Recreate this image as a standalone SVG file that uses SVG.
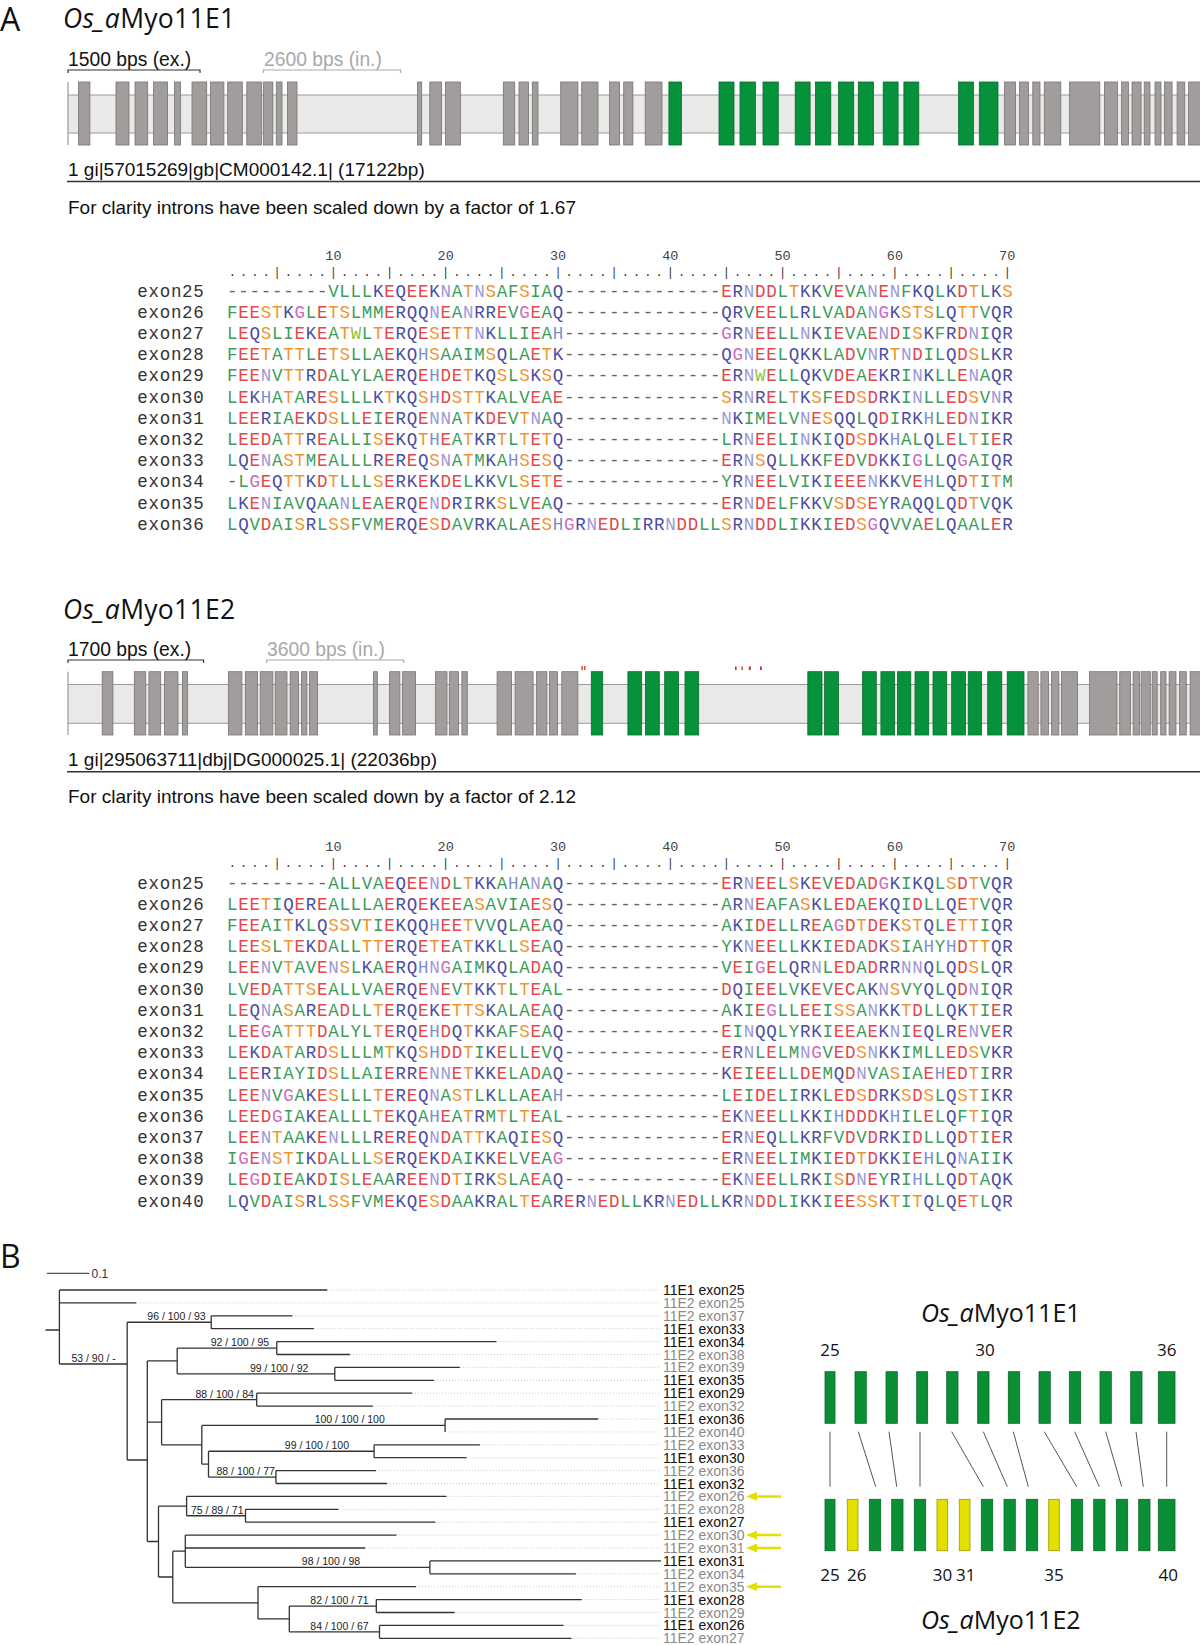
<svg xmlns="http://www.w3.org/2000/svg" width="1200" height="1645" viewBox="0 0 1200 1645">
<style>
.bg{fill:#fff}
.ttl{font-family:"Open Sans","Liberation Sans",sans-serif;font-size:25px;fill:#111}
.ttlA{font-family:"Open Sans","Liberation Sans",sans-serif;font-size:26.5px;fill:#111;letter-spacing:0.3px}
.pl{font-family:"Open Sans","Liberation Sans",sans-serif;font-size:32px;fill:#111}
.sans{font-family:"Liberation Sans",Arial,sans-serif}
.bar{stroke:#333;stroke-width:1.2;fill:none}
.bar2{stroke:#aaa;stroke-width:1.2;fill:none}
.band{fill:#e9e9e7}
.bandl{stroke:#9a9a9a;stroke-width:1;fill:none}
.ex{fill:#a09d9c;stroke:#767372;stroke-width:0.8}
.eg{fill:#05923b;stroke:#0a6a2c;stroke-width:0.8}
.sep{stroke:#333;stroke-width:1.4}
.seq{font-family:"Liberation Mono","DejaVu Sans Mono",monospace;font-size:17.5px;letter-spacing:0.73px;fill:#3a9d5a}
.lab{font-family:"Liberation Mono","DejaVu Sans Mono",monospace;font-size:17.5px;letter-spacing:0.73px;fill:#333}
.num{font-family:"Liberation Mono","DejaVu Sans Mono",monospace;font-size:13.5px;fill:#444;text-anchor:middle}
.dots{font-family:"Liberation Mono","DejaVu Sans Mono",monospace;font-size:12px;letter-spacing:4.03px;fill:#333}
.a{fill:#e4474b}.b{fill:#4c4ca2}.n{fill:#9c98d8}.o{fill:#f0952b}.g{fill:#d06ac0}.x{fill:#7a8fcc}.w{fill:#8cc43c}.c{fill:#e4474b}.d{fill:#666}
.br{stroke:#333;stroke-width:1.3;fill:none}
.ldr{stroke:#c8c8c8;stroke-width:1;stroke-dasharray:1 2;fill:none}
.bs{font-family:"Liberation Sans",Arial,sans-serif;font-size:10.5px;fill:#222}
.l1{font-family:"Liberation Sans",Arial,sans-serif;font-size:14px;fill:#111}
.l2{font-family:"Liberation Sans",Arial,sans-serif;font-size:14px;fill:#8a8a8a}
.arr{stroke:#e3df00;stroke-width:2.5;fill:none}
.arh{fill:#e3df00}
.rg{fill:#0a8f34;stroke:#06682a;stroke-width:0.8}
.ry{fill:#e3e000;stroke:#9a9a00;stroke-width:0.8}
.cn{stroke:#555;stroke-width:1}
.rn{font-family:"Open Sans","Liberation Sans",sans-serif;font-size:17px;fill:#111;text-anchor:middle}
.red{fill:#d42a2a}
</style>
<rect class="bg" x="0" y="0" width="1200" height="1645"/>

<g id="panelA-label"><text class="pl" x="0" y="31">A</text></g>

<g id="gene-E1">
<text class="ttlA" x="63" y="28"><tspan font-style="italic">Os_a</tspan>Myo11E1</text>
<text class="sans" x="68" y="65.5" font-size="19.3" fill="#111">1500 bps (ex.)</text>
<path class="bar" d="M68,73V70H200V73"/>
<text class="sans" x="264" y="65.5" font-size="19.3" fill="#a8a8a8">2600 bps (in.)</text>
<path class="bar2" d="M263.5,73V70H400.5V73"/>
<rect class="band" x="68" y="95" width="1132" height="38"/>
<path class="bandl" d="M68,95H1200M68,133H1200"/>
<path d="M68,82V145" stroke="#888" stroke-width="1"/>
<g>
<rect class="ex" x="78.5" y="82" width="11.4" height="63"/>
<rect class="ex" x="116" y="82" width="13" height="63"/>
<rect class="ex" x="135" y="82" width="12.7" height="63"/>
<rect class="ex" x="153.5" y="82" width="14.1" height="63"/>
<rect class="ex" x="174.5" y="82" width="6.1" height="63"/>
<rect class="ex" x="192" y="82" width="14.7" height="63"/>
<rect class="ex" x="210.5" y="82" width="13.4" height="63"/>
<rect class="ex" x="227.7" y="82" width="14.6" height="63"/>
<rect class="ex" x="246.8" y="82" width="14.6" height="63"/>
<rect class="ex" x="263.3" y="82" width="9.6" height="63"/>
<rect class="ex" x="276.3" y="82" width="5.7" height="63"/>
<rect class="ex" x="287.4" y="82" width="9.6" height="63"/>
<rect class="ex" x="417.5" y="82" width="4.2" height="63"/>
<rect class="ex" x="429.8" y="82" width="11.8" height="63"/>
<rect class="ex" x="445.5" y="82" width="14.9" height="63"/>
<rect class="ex" x="503.3" y="82" width="11.4" height="63"/>
<rect class="ex" x="519" y="82" width="9.5" height="63"/>
<rect class="ex" x="532.3" y="82" width="5.7" height="63"/>
<rect class="ex" x="560.7" y="82" width="17.2" height="63"/>
<rect class="ex" x="581.7" y="82" width="16.3" height="63"/>
<rect class="ex" x="609.6" y="82" width="9.9" height="63"/>
<rect class="ex" x="623.7" y="82" width="9.2" height="63"/>
<rect class="ex" x="645.2" y="82" width="16.8" height="63"/>
<rect class="eg" x="668.9" y="82" width="12.6" height="63"/>
<rect class="eg" x="719" y="82" width="15" height="63"/>
<rect class="eg" x="740" y="82" width="15.4" height="63"/>
<rect class="eg" x="763" y="82" width="15.3" height="63"/>
<rect class="eg" x="795.2" y="82" width="14.9" height="63"/>
<rect class="eg" x="815.5" y="82" width="15.3" height="63"/>
<rect class="eg" x="838.4" y="82" width="15.3" height="63"/>
<rect class="eg" x="858.3" y="82" width="15.3" height="63"/>
<rect class="eg" x="883.2" y="82" width="14.9" height="63"/>
<rect class="eg" x="903.9" y="82" width="14.9" height="63"/>
<rect class="eg" x="958.6" y="82" width="14.9" height="63"/>
<rect class="eg" x="979.3" y="82" width="18.7" height="63"/>
<rect class="ex" x="1004.5" y="82" width="11.1" height="63"/>
<rect class="ex" x="1019.4" y="82" width="9.2" height="63"/>
<rect class="ex" x="1032.8" y="82" width="7.2" height="63"/>
<rect class="ex" x="1044.3" y="82" width="16.5" height="63"/>
<rect class="ex" x="1069.6" y="82" width="30.2" height="63"/>
<rect class="ex" x="1104.4" y="82" width="13" height="63"/>
<rect class="ex" x="1121.6" y="82" width="6.9" height="63"/>
<rect class="ex" x="1132" y="82" width="9.1" height="63"/>
<rect class="ex" x="1144.2" y="82" width="5.8" height="63"/>
<rect class="ex" x="1155" y="82" width="6" height="63"/>
<rect class="ex" x="1164.5" y="82" width="7.6" height="63"/>
<rect class="ex" x="1177.1" y="82" width="7.7" height="63"/>
<rect class="ex" x="1188.6" y="82" width="12" height="63"/>
</g>
<text class="sans" x="68" y="175.5" font-size="19" fill="#111">1 gi|57015269|gb|CM000142.1| (17122bp)</text>
<path class="sep" d="M67,181.5H1200"/>
<text class="sans" x="68" y="213.5" font-size="19" fill="#111">For clarity introns have been scaled down by a factor of 1.67</text>
</g>

<g id="align-E1">
<text class="num" x="333.4" y="259.5">10</text><text class="num" x="445.7" y="259.5">20</text><text class="num" x="558" y="259.5">30</text><text class="num" x="670.3" y="259.5">40</text><text class="num" x="782.6" y="259.5">50</text><text class="num" x="894.9" y="259.5">60</text><text class="num" x="1007.2" y="259.5">70</text>
<text class="dots" x="228.7" y="275.5">....|....|....|....|....|....|....|....|....|....|....|....|....|....|</text>
<text class="lab" x="137.2" y="296.5">exon25</text>
<text class="lab" x="137.2" y="317.7">exon26</text>
<text class="lab" x="137.2" y="338.9">exon27</text>
<text class="lab" x="137.2" y="360.1">exon28</text>
<text class="lab" x="137.2" y="381.3">exon29</text>
<text class="lab" x="137.2" y="402.5">exon30</text>
<text class="lab" x="137.2" y="423.7">exon31</text>
<text class="lab" x="137.2" y="444.9">exon32</text>
<text class="lab" x="137.2" y="466.1">exon33</text>
<text class="lab" x="137.2" y="487.3">exon34</text>
<text class="lab" x="137.2" y="508.5">exon35</text>
<text class="lab" x="137.2" y="529.7">exon36</text>
<text class="seq" x="227.05" y="296.5"><tspan class="d">---------</tspan>VLLL<tspan class="b">K</tspan><tspan class="a">E</tspan><tspan class="b">Q</tspan><tspan class="a">EE</tspan><tspan class="b">K</tspan><tspan class="n">N</tspan>A<tspan class="o">T</tspan><tspan class="n">N</tspan><tspan class="o">S</tspan>AF<tspan class="o">S</tspan>IA<tspan class="b">Q</tspan><tspan class="d">--------------</tspan><tspan class="a">E</tspan><tspan class="b">R</tspan><tspan class="n">N</tspan><tspan class="a">DD</tspan>L<tspan class="o">T</tspan><tspan class="b">KK</tspan>V<tspan class="a">E</tspan>VA<tspan class="n">N</tspan><tspan class="a">E</tspan><tspan class="n">N</tspan>F<tspan class="b">KQ</tspan>L<tspan class="b">K</tspan><tspan class="a">D</tspan><tspan class="o">T</tspan>L<tspan class="b">K</tspan><tspan class="o">S</tspan></text>
<text class="seq" x="227.05" y="317.7">F<tspan class="a">EE</tspan><tspan class="o">ST</tspan><tspan class="b">K</tspan><tspan class="g">G</tspan>L<tspan class="a">E</tspan><tspan class="o">TS</tspan>LMM<tspan class="a">E</tspan><tspan class="b">RQQ</tspan><tspan class="n">N</tspan><tspan class="a">E</tspan>A<tspan class="n">N</tspan><tspan class="b">RR</tspan><tspan class="a">E</tspan>V<tspan class="g">G</tspan><tspan class="a">E</tspan>A<tspan class="b">Q</tspan><tspan class="d">--------------</tspan><tspan class="b">QR</tspan>V<tspan class="a">EE</tspan>LL<tspan class="b">R</tspan>LVA<tspan class="a">D</tspan>A<tspan class="n">N</tspan><tspan class="g">G</tspan><tspan class="b">K</tspan><tspan class="o">STS</tspan>L<tspan class="b">Q</tspan><tspan class="o">TT</tspan>V<tspan class="b">QR</tspan></text>
<text class="seq" x="227.05" y="338.9">L<tspan class="a">E</tspan><tspan class="b">Q</tspan><tspan class="o">S</tspan>LI<tspan class="a">E</tspan><tspan class="b">K</tspan><tspan class="a">E</tspan>A<tspan class="o">T</tspan><tspan class="w">W</tspan>L<tspan class="o">T</tspan><tspan class="a">E</tspan><tspan class="b">RQ</tspan><tspan class="a">E</tspan><tspan class="o">S</tspan><tspan class="a">E</tspan><tspan class="o">TT</tspan><tspan class="n">N</tspan><tspan class="b">K</tspan>LLI<tspan class="a">E</tspan>A<tspan class="x">H</tspan><tspan class="d">--------------</tspan><tspan class="g">G</tspan><tspan class="b">R</tspan><tspan class="n">N</tspan><tspan class="a">EE</tspan>LL<tspan class="n">N</tspan><tspan class="b">K</tspan>I<tspan class="a">E</tspan>VA<tspan class="a">E</tspan><tspan class="n">N</tspan><tspan class="a">D</tspan>I<tspan class="o">S</tspan><tspan class="b">K</tspan>F<tspan class="b">R</tspan><tspan class="a">D</tspan><tspan class="n">N</tspan>I<tspan class="b">QR</tspan></text>
<text class="seq" x="227.05" y="360.1">F<tspan class="a">EE</tspan><tspan class="o">T</tspan>A<tspan class="o">TT</tspan>L<tspan class="a">E</tspan><tspan class="o">TS</tspan>LLA<tspan class="a">E</tspan><tspan class="b">KQ</tspan><tspan class="x">H</tspan><tspan class="o">S</tspan>AAIM<tspan class="o">S</tspan><tspan class="b">Q</tspan>LA<tspan class="a">E</tspan><tspan class="o">T</tspan><tspan class="b">K</tspan><tspan class="d">--------------</tspan><tspan class="b">Q</tspan><tspan class="g">G</tspan><tspan class="n">N</tspan><tspan class="a">EE</tspan>L<tspan class="b">QKK</tspan>LA<tspan class="a">D</tspan>V<tspan class="n">N</tspan><tspan class="b">R</tspan><tspan class="o">T</tspan><tspan class="n">N</tspan><tspan class="a">D</tspan>IL<tspan class="b">Q</tspan><tspan class="a">D</tspan><tspan class="o">S</tspan>L<tspan class="b">KR</tspan></text>
<text class="seq" x="227.05" y="381.3">F<tspan class="a">EE</tspan><tspan class="n">N</tspan>V<tspan class="o">TT</tspan><tspan class="b">R</tspan><tspan class="a">D</tspan>ALYLA<tspan class="a">E</tspan><tspan class="b">RQ</tspan><tspan class="a">E</tspan><tspan class="x">H</tspan><tspan class="a">DE</tspan><tspan class="o">T</tspan><tspan class="b">KQ</tspan><tspan class="o">S</tspan>L<tspan class="o">S</tspan><tspan class="b">K</tspan><tspan class="o">S</tspan><tspan class="b">Q</tspan><tspan class="d">--------------</tspan><tspan class="a">E</tspan><tspan class="b">R</tspan><tspan class="n">N</tspan><tspan class="w">W</tspan><tspan class="a">E</tspan>LL<tspan class="b">QK</tspan>V<tspan class="a">DE</tspan>A<tspan class="a">E</tspan><tspan class="b">KR</tspan>I<tspan class="n">N</tspan><tspan class="b">K</tspan>LL<tspan class="a">E</tspan><tspan class="n">N</tspan>A<tspan class="b">QR</tspan></text>
<text class="seq" x="227.05" y="402.5">L<tspan class="a">E</tspan><tspan class="b">K</tspan><tspan class="x">H</tspan>A<tspan class="o">T</tspan>A<tspan class="b">R</tspan><tspan class="a">E</tspan><tspan class="o">S</tspan>LLL<tspan class="b">K</tspan><tspan class="o">T</tspan><tspan class="b">KQ</tspan><tspan class="o">S</tspan><tspan class="x">H</tspan><tspan class="a">D</tspan><tspan class="o">STT</tspan><tspan class="b">K</tspan>ALV<tspan class="a">E</tspan>A<tspan class="a">E</tspan><tspan class="d">--------------</tspan><tspan class="o">S</tspan><tspan class="b">R</tspan><tspan class="n">N</tspan><tspan class="b">R</tspan><tspan class="a">E</tspan>L<tspan class="o">T</tspan><tspan class="b">K</tspan><tspan class="o">S</tspan>F<tspan class="a">ED</tspan><tspan class="o">S</tspan><tspan class="a">D</tspan><tspan class="b">RK</tspan>I<tspan class="n">N</tspan>LL<tspan class="a">ED</tspan><tspan class="o">S</tspan>V<tspan class="n">N</tspan><tspan class="b">R</tspan></text>
<text class="seq" x="227.05" y="423.7">L<tspan class="a">EE</tspan><tspan class="b">R</tspan>IA<tspan class="a">E</tspan><tspan class="b">K</tspan><tspan class="a">D</tspan><tspan class="o">S</tspan>LL<tspan class="a">E</tspan>I<tspan class="a">E</tspan><tspan class="b">RQ</tspan><tspan class="a">E</tspan><tspan class="n">NN</tspan>A<tspan class="o">T</tspan><tspan class="b">K</tspan><tspan class="a">DE</tspan>V<tspan class="o">T</tspan><tspan class="n">N</tspan>A<tspan class="b">Q</tspan><tspan class="d">--------------</tspan><tspan class="n">N</tspan><tspan class="b">K</tspan>IM<tspan class="a">E</tspan>LV<tspan class="n">N</tspan><tspan class="a">E</tspan><tspan class="o">S</tspan><tspan class="b">QQ</tspan>L<tspan class="b">Q</tspan><tspan class="a">D</tspan>I<tspan class="b">RK</tspan><tspan class="x">H</tspan>L<tspan class="a">ED</tspan><tspan class="n">N</tspan>I<tspan class="b">KR</tspan></text>
<text class="seq" x="227.05" y="444.9">L<tspan class="a">EED</tspan>A<tspan class="o">TT</tspan><tspan class="b">R</tspan><tspan class="a">E</tspan>ALLI<tspan class="o">S</tspan><tspan class="a">E</tspan><tspan class="b">KQ</tspan><tspan class="o">T</tspan><tspan class="x">H</tspan><tspan class="a">E</tspan>A<tspan class="o">T</tspan><tspan class="b">KR</tspan><tspan class="o">T</tspan>L<tspan class="o">T</tspan><tspan class="a">E</tspan><tspan class="o">T</tspan><tspan class="b">Q</tspan><tspan class="d">--------------</tspan>L<tspan class="b">R</tspan><tspan class="n">N</tspan><tspan class="a">EE</tspan>LI<tspan class="n">N</tspan><tspan class="b">K</tspan>I<tspan class="b">Q</tspan><tspan class="a">D</tspan><tspan class="o">S</tspan><tspan class="a">D</tspan><tspan class="b">K</tspan><tspan class="x">H</tspan>AL<tspan class="b">Q</tspan>L<tspan class="a">E</tspan>L<tspan class="o">T</tspan>I<tspan class="a">E</tspan><tspan class="b">R</tspan></text>
<text class="seq" x="227.05" y="466.1">L<tspan class="b">Q</tspan><tspan class="a">E</tspan><tspan class="n">N</tspan>A<tspan class="o">ST</tspan>M<tspan class="a">E</tspan>ALLL<tspan class="b">R</tspan><tspan class="a">E</tspan><tspan class="b">R</tspan><tspan class="a">E</tspan><tspan class="b">Q</tspan><tspan class="o">S</tspan><tspan class="n">N</tspan>A<tspan class="o">T</tspan>M<tspan class="b">K</tspan>A<tspan class="x">H</tspan><tspan class="o">S</tspan><tspan class="a">E</tspan><tspan class="o">S</tspan><tspan class="b">Q</tspan><tspan class="d">--------------</tspan><tspan class="a">E</tspan><tspan class="b">R</tspan><tspan class="n">N</tspan><tspan class="o">S</tspan><tspan class="b">Q</tspan>LL<tspan class="b">KK</tspan>F<tspan class="a">ED</tspan>V<tspan class="a">D</tspan><tspan class="b">KK</tspan>I<tspan class="g">G</tspan>LL<tspan class="b">Q</tspan><tspan class="g">G</tspan>AI<tspan class="b">QR</tspan></text>
<text class="seq" x="227.05" y="487.3"><tspan class="d">-</tspan>L<tspan class="g">G</tspan><tspan class="a">E</tspan><tspan class="b">Q</tspan><tspan class="o">TT</tspan><tspan class="b">K</tspan><tspan class="a">D</tspan><tspan class="o">T</tspan>LLL<tspan class="o">S</tspan><tspan class="a">E</tspan><tspan class="b">RK</tspan><tspan class="a">E</tspan><tspan class="b">K</tspan><tspan class="a">DE</tspan>L<tspan class="b">KK</tspan>VL<tspan class="o">S</tspan><tspan class="a">E</tspan><tspan class="o">T</tspan><tspan class="a">E</tspan><tspan class="d">--------------</tspan>Y<tspan class="b">R</tspan><tspan class="n">N</tspan><tspan class="a">EE</tspan>LVI<tspan class="b">K</tspan>I<tspan class="a">EEE</tspan><tspan class="n">N</tspan><tspan class="b">KK</tspan>V<tspan class="a">E</tspan><tspan class="x">H</tspan>L<tspan class="b">Q</tspan><tspan class="a">D</tspan><tspan class="o">T</tspan>I<tspan class="o">T</tspan>M</text>
<text class="seq" x="227.05" y="508.5">L<tspan class="b">K</tspan><tspan class="a">E</tspan><tspan class="n">N</tspan>IAV<tspan class="b">Q</tspan>AA<tspan class="n">N</tspan>L<tspan class="a">E</tspan>A<tspan class="a">E</tspan><tspan class="b">RQ</tspan><tspan class="a">E</tspan><tspan class="n">N</tspan><tspan class="a">D</tspan><tspan class="b">R</tspan>I<tspan class="b">RK</tspan><tspan class="o">S</tspan>LV<tspan class="a">E</tspan>A<tspan class="b">Q</tspan><tspan class="d">--------------</tspan><tspan class="a">E</tspan><tspan class="b">R</tspan><tspan class="n">N</tspan><tspan class="a">DE</tspan>LF<tspan class="b">KK</tspan>V<tspan class="o">S</tspan><tspan class="a">D</tspan><tspan class="o">S</tspan><tspan class="a">E</tspan>Y<tspan class="b">R</tspan>A<tspan class="b">QQ</tspan>L<tspan class="b">Q</tspan><tspan class="a">D</tspan><tspan class="o">T</tspan>V<tspan class="b">QK</tspan></text>
<text class="seq" x="227.05" y="529.7">L<tspan class="b">Q</tspan>V<tspan class="a">D</tspan>AI<tspan class="o">S</tspan><tspan class="b">R</tspan>L<tspan class="o">SS</tspan>FVM<tspan class="a">E</tspan><tspan class="b">RQ</tspan><tspan class="a">E</tspan><tspan class="o">S</tspan><tspan class="a">D</tspan>AV<tspan class="b">RK</tspan>ALA<tspan class="a">E</tspan><tspan class="o">S</tspan><tspan class="x">H</tspan><tspan class="g">G</tspan><tspan class="b">R</tspan><tspan class="n">N</tspan><tspan class="a">ED</tspan>LI<tspan class="b">RR</tspan><tspan class="n">N</tspan><tspan class="a">DD</tspan>LL<tspan class="o">S</tspan><tspan class="b">R</tspan><tspan class="n">N</tspan><tspan class="a">DD</tspan>LI<tspan class="b">KK</tspan>I<tspan class="a">ED</tspan><tspan class="o">S</tspan><tspan class="g">G</tspan><tspan class="b">Q</tspan>VVA<tspan class="a">E</tspan>L<tspan class="b">Q</tspan>AAL<tspan class="a">E</tspan><tspan class="b">R</tspan></text>
</g>

<g id="gene-E2">
<text class="ttlA" x="63" y="619"><tspan font-style="italic">Os_a</tspan>Myo11E2</text>
<text class="sans" x="68" y="656" font-size="19.3" fill="#111">1700 bps (ex.)</text>
<path class="bar" d="M68,663V660H203.6V663"/>
<text class="sans" x="267" y="656" font-size="19.3" fill="#a8a8a8">3600 bps (in.)</text>
<path class="bar2" d="M266.7,663V660H403.7V663"/>
<rect class="band" x="68" y="684.5" width="1132" height="38.8"/>
<path class="bandl" d="M68,684.5H1200M68,723.3H1200"/>
<path d="M68,671.7V735" stroke="#888" stroke-width="1"/>
<g>
<rect class="ex" x="102.2" y="671.7" width="10.7" height="63.3"/>
<rect class="ex" x="134.3" y="671.7" width="11.5" height="63.3"/>
<rect class="ex" x="148.9" y="671.7" width="11.8" height="63.3"/>
<rect class="ex" x="164.6" y="671.7" width="13.4" height="63.3"/>
<rect class="ex" x="182.5" y="671.7" width="5" height="63.3"/>
<rect class="ex" x="228.5" y="671.7" width="13.4" height="63.3"/>
<rect class="ex" x="245.3" y="671.7" width="12.3" height="63.3"/>
<rect class="ex" x="260.2" y="671.7" width="12.7" height="63.3"/>
<rect class="ex" x="275.2" y="671.7" width="11.8" height="63.3"/>
<rect class="ex" x="290.1" y="671.7" width="8.4" height="63.3"/>
<rect class="ex" x="301.6" y="671.7" width="5.3" height="63.3"/>
<rect class="ex" x="309.6" y="671.7" width="8" height="63.3"/>
<rect class="ex" x="373.5" y="671.7" width="3.8" height="63.3"/>
<rect class="ex" x="389.6" y="671.7" width="10.3" height="63.3"/>
<rect class="ex" x="402.6" y="671.7" width="13" height="63.3"/>
<rect class="ex" x="435.5" y="671.7" width="11.5" height="63.3"/>
<rect class="ex" x="449.3" y="671.7" width="9.2" height="63.3"/>
<rect class="ex" x="461.9" y="671.7" width="5.4" height="63.3"/>
<rect class="ex" x="497.1" y="671.7" width="14.5" height="63.3"/>
<rect class="ex" x="515.1" y="671.7" width="18" height="63.3"/>
<rect class="ex" x="536.6" y="671.7" width="10.3" height="63.3"/>
<rect class="ex" x="549.6" y="671.7" width="8" height="63.3"/>
<rect class="ex" x="561.8" y="671.7" width="16.1" height="63.3"/>
<rect class="eg" x="591.3" y="671.7" width="11.4" height="63.3"/>
<rect class="eg" x="627.9" y="671.7" width="13.8" height="63.3"/>
<rect class="eg" x="645.5" y="671.7" width="13.8" height="63.3"/>
<rect class="eg" x="664.7" y="671.7" width="13.8" height="63.3"/>
<rect class="eg" x="685" y="671.7" width="13.7" height="63.3"/>
<rect class="eg" x="807.8" y="671.7" width="14.2" height="63.3"/>
<rect class="eg" x="824.6" y="671.7" width="13.8" height="63.3"/>
<rect class="eg" x="862.5" y="671.7" width="13.8" height="63.3"/>
<rect class="eg" x="880.9" y="671.7" width="13.8" height="63.3"/>
<rect class="eg" x="897.4" y="671.7" width="13.4" height="63.3"/>
<rect class="eg" x="915" y="671.7" width="13.7" height="63.3"/>
<rect class="eg" x="933" y="671.7" width="13.7" height="63.3"/>
<rect class="eg" x="951.7" y="671.7" width="13.8" height="63.3"/>
<rect class="eg" x="968.2" y="671.7" width="13.4" height="63.3"/>
<rect class="eg" x="987.7" y="671.7" width="14.1" height="63.3"/>
<rect class="eg" x="1007.2" y="671.7" width="16.8" height="63.3"/>
<rect class="ex" x="1027.9" y="671.7" width="10.3" height="63.3"/>
<rect class="ex" x="1040.9" y="671.7" width="7.6" height="63.3"/>
<rect class="ex" x="1051.6" y="671.7" width="7.3" height="63.3"/>
<rect class="ex" x="1061.5" y="671.7" width="16.1" height="63.3"/>
<rect class="ex" x="1089.5" y="671.7" width="27.5" height="63.3"/>
<rect class="ex" x="1119.7" y="671.7" width="10.7" height="63.3"/>
<rect class="ex" x="1133.1" y="671.7" width="6.5" height="63.3"/>
<rect class="ex" x="1141.1" y="671.7" width="9.2" height="63.3"/>
<rect class="ex" x="1152.2" y="671.7" width="5" height="63.3"/>
<rect class="ex" x="1160.7" y="671.7" width="5.3" height="63.3"/>
<rect class="ex" x="1169.1" y="671.7" width="6.9" height="63.3"/>
<rect class="ex" x="1179.4" y="671.7" width="6.9" height="63.3"/>
<rect class="ex" x="1190.1" y="671.7" width="10.5" height="63.3"/>
</g>
<rect class="red" x="581.5" y="666" width="1.3" height="4"/>
<rect class="red" x="584.2" y="666" width="1.3" height="4"/>
<rect class="red" x="735" y="666.5" width="1.6" height="3.5"/>
<rect class="red" x="741.5" y="666.5" width="1.4" height="3.5"/>
<rect class="red" x="748.8" y="666.5" width="2" height="3.5"/>
<rect class="red" x="760" y="666.5" width="1.8" height="3.5"/>
<text class="sans" x="68" y="765.5" font-size="19" fill="#111">1 gi|295063711|dbj|DG000025.1| (22036bp)</text>
<path class="sep" d="M67,771.7H1200"/>
<text class="sans" x="68" y="803" font-size="19" fill="#111">For clarity introns have been scaled down by a factor of 2.12</text>
</g>

<g id="align-E2">
<text class="num" x="333.4" y="851">10</text><text class="num" x="445.7" y="851">20</text><text class="num" x="558" y="851">30</text><text class="num" x="670.3" y="851">40</text><text class="num" x="782.6" y="851">50</text><text class="num" x="894.9" y="851">60</text><text class="num" x="1007.2" y="851">70</text>
<text class="dots" x="228.7" y="867">....|....|....|....|....|....|....|....|....|....|....|....|....|....|</text>
<text class="lab" x="137.2" y="888.5">exon25</text>
<text class="lab" x="137.2" y="909.7">exon26</text>
<text class="lab" x="137.2" y="930.9">exon27</text>
<text class="lab" x="137.2" y="952.1">exon28</text>
<text class="lab" x="137.2" y="973.3">exon29</text>
<text class="lab" x="137.2" y="994.5">exon30</text>
<text class="lab" x="137.2" y="1015.7">exon31</text>
<text class="lab" x="137.2" y="1036.9">exon32</text>
<text class="lab" x="137.2" y="1058.1">exon33</text>
<text class="lab" x="137.2" y="1079.3">exon34</text>
<text class="lab" x="137.2" y="1100.5">exon35</text>
<text class="lab" x="137.2" y="1121.7">exon36</text>
<text class="lab" x="137.2" y="1142.9">exon37</text>
<text class="lab" x="137.2" y="1164.1">exon38</text>
<text class="lab" x="137.2" y="1185.3">exon39</text>
<text class="lab" x="137.2" y="1206.5">exon40</text>
<text class="seq" x="227.05" y="888.5"><tspan class="d">---------</tspan>ALLVA<tspan class="a">E</tspan><tspan class="b">Q</tspan><tspan class="a">EE</tspan><tspan class="n">N</tspan><tspan class="a">D</tspan>L<tspan class="o">T</tspan><tspan class="b">KK</tspan>A<tspan class="x">H</tspan>A<tspan class="n">N</tspan>A<tspan class="b">Q</tspan><tspan class="d">--------------</tspan><tspan class="a">E</tspan><tspan class="b">R</tspan><tspan class="n">N</tspan><tspan class="a">EE</tspan>L<tspan class="o">S</tspan><tspan class="b">K</tspan><tspan class="a">E</tspan>V<tspan class="a">ED</tspan>A<tspan class="a">D</tspan><tspan class="g">G</tspan><tspan class="b">K</tspan>I<tspan class="b">KQ</tspan>L<tspan class="o">S</tspan><tspan class="a">D</tspan><tspan class="o">T</tspan>V<tspan class="b">QR</tspan></text>
<text class="seq" x="227.05" y="909.7">L<tspan class="a">EE</tspan><tspan class="o">T</tspan>I<tspan class="b">Q</tspan><tspan class="a">E</tspan><tspan class="b">R</tspan><tspan class="a">E</tspan>ALLLA<tspan class="a">E</tspan><tspan class="b">RQ</tspan><tspan class="a">E</tspan><tspan class="b">K</tspan><tspan class="a">EE</tspan>A<tspan class="o">S</tspan>AVIA<tspan class="a">E</tspan><tspan class="o">S</tspan><tspan class="b">Q</tspan><tspan class="d">--------------</tspan>A<tspan class="b">R</tspan><tspan class="n">N</tspan><tspan class="a">E</tspan>AFA<tspan class="o">S</tspan><tspan class="b">K</tspan>L<tspan class="a">ED</tspan>A<tspan class="a">E</tspan><tspan class="b">KQ</tspan>I<tspan class="a">D</tspan>LL<tspan class="b">Q</tspan><tspan class="a">E</tspan><tspan class="o">T</tspan>V<tspan class="b">QR</tspan></text>
<text class="seq" x="227.05" y="930.9">F<tspan class="a">EE</tspan>AI<tspan class="o">T</tspan><tspan class="b">K</tspan>L<tspan class="b">Q</tspan><tspan class="o">SS</tspan>V<tspan class="o">T</tspan>I<tspan class="a">E</tspan><tspan class="b">KQQ</tspan><tspan class="x">H</tspan><tspan class="a">EE</tspan><tspan class="o">T</tspan>VV<tspan class="b">Q</tspan>LA<tspan class="a">E</tspan>A<tspan class="b">Q</tspan><tspan class="d">--------------</tspan>A<tspan class="b">K</tspan>I<tspan class="a">DE</tspan>LL<tspan class="b">R</tspan><tspan class="a">E</tspan>A<tspan class="g">G</tspan><tspan class="a">D</tspan><tspan class="o">T</tspan><tspan class="a">DE</tspan><tspan class="b">K</tspan><tspan class="o">ST</tspan><tspan class="b">Q</tspan>L<tspan class="a">E</tspan><tspan class="o">TT</tspan>I<tspan class="b">QR</tspan></text>
<text class="seq" x="227.05" y="952.1">L<tspan class="a">EE</tspan><tspan class="o">S</tspan>L<tspan class="o">T</tspan><tspan class="a">E</tspan><tspan class="b">K</tspan><tspan class="a">D</tspan>ALL<tspan class="o">TT</tspan><tspan class="a">E</tspan><tspan class="b">RQ</tspan><tspan class="a">E</tspan><tspan class="o">T</tspan><tspan class="a">E</tspan>A<tspan class="o">T</tspan><tspan class="b">KK</tspan>LL<tspan class="o">S</tspan><tspan class="a">E</tspan>A<tspan class="b">Q</tspan><tspan class="d">--------------</tspan>Y<tspan class="b">K</tspan><tspan class="n">N</tspan><tspan class="a">EE</tspan>LL<tspan class="b">KK</tspan>I<tspan class="a">ED</tspan>A<tspan class="a">D</tspan><tspan class="b">K</tspan><tspan class="o">S</tspan>IA<tspan class="x">H</tspan>Y<tspan class="x">H</tspan><tspan class="a">D</tspan><tspan class="o">TT</tspan><tspan class="b">QR</tspan></text>
<text class="seq" x="227.05" y="973.3">L<tspan class="a">EE</tspan><tspan class="n">N</tspan>V<tspan class="o">T</tspan>AV<tspan class="a">E</tspan><tspan class="n">N</tspan><tspan class="o">S</tspan>L<tspan class="b">K</tspan>A<tspan class="a">E</tspan><tspan class="b">RQ</tspan><tspan class="x">H</tspan><tspan class="n">N</tspan><tspan class="g">G</tspan>AIM<tspan class="b">KQ</tspan>LA<tspan class="a">D</tspan>A<tspan class="b">Q</tspan><tspan class="d">--------------</tspan>V<tspan class="a">E</tspan>I<tspan class="g">G</tspan><tspan class="a">E</tspan>L<tspan class="b">QR</tspan><tspan class="n">N</tspan>L<tspan class="a">ED</tspan>A<tspan class="a">D</tspan><tspan class="b">RR</tspan><tspan class="n">NN</tspan><tspan class="b">Q</tspan>L<tspan class="b">Q</tspan><tspan class="a">D</tspan><tspan class="o">S</tspan>L<tspan class="b">QR</tspan></text>
<text class="seq" x="227.05" y="994.5">LV<tspan class="a">ED</tspan>A<tspan class="o">TTS</tspan><tspan class="a">E</tspan>ALLVA<tspan class="a">E</tspan><tspan class="b">RQ</tspan><tspan class="a">E</tspan><tspan class="n">N</tspan><tspan class="a">E</tspan>V<tspan class="o">T</tspan><tspan class="b">KK</tspan><tspan class="o">T</tspan>L<tspan class="o">T</tspan><tspan class="a">E</tspan>AL<tspan class="d">--------------</tspan><tspan class="a">D</tspan><tspan class="b">Q</tspan>I<tspan class="a">EE</tspan>LV<tspan class="b">K</tspan><tspan class="a">E</tspan>V<tspan class="a">E</tspan><tspan class="c">C</tspan>A<tspan class="b">K</tspan><tspan class="n">N</tspan><tspan class="o">S</tspan>VY<tspan class="b">Q</tspan>L<tspan class="b">Q</tspan><tspan class="a">D</tspan><tspan class="n">N</tspan>I<tspan class="b">QR</tspan></text>
<text class="seq" x="227.05" y="1015.7">L<tspan class="a">E</tspan><tspan class="b">Q</tspan><tspan class="n">N</tspan>A<tspan class="o">S</tspan>A<tspan class="b">R</tspan><tspan class="a">E</tspan>A<tspan class="a">D</tspan>LL<tspan class="o">T</tspan><tspan class="a">E</tspan><tspan class="b">RQ</tspan><tspan class="a">E</tspan><tspan class="b">K</tspan><tspan class="a">E</tspan><tspan class="o">TTS</tspan><tspan class="b">K</tspan>ALA<tspan class="a">E</tspan>A<tspan class="b">Q</tspan><tspan class="d">--------------</tspan>A<tspan class="b">K</tspan>I<tspan class="a">E</tspan><tspan class="g">G</tspan>LL<tspan class="a">EE</tspan>I<tspan class="o">SS</tspan>A<tspan class="n">N</tspan><tspan class="b">KK</tspan><tspan class="o">T</tspan><tspan class="a">D</tspan>LL<tspan class="b">QK</tspan><tspan class="o">T</tspan>I<tspan class="a">E</tspan><tspan class="b">R</tspan></text>
<text class="seq" x="227.05" y="1036.9">L<tspan class="a">EE</tspan><tspan class="g">G</tspan>A<tspan class="o">TTT</tspan><tspan class="a">D</tspan>ALYL<tspan class="o">T</tspan><tspan class="a">E</tspan><tspan class="b">RQ</tspan><tspan class="a">E</tspan><tspan class="x">H</tspan><tspan class="a">D</tspan><tspan class="b">Q</tspan><tspan class="o">T</tspan><tspan class="b">KK</tspan>AF<tspan class="o">S</tspan><tspan class="a">E</tspan>A<tspan class="b">Q</tspan><tspan class="d">--------------</tspan><tspan class="a">E</tspan>I<tspan class="n">N</tspan><tspan class="b">QQ</tspan>LY<tspan class="b">RK</tspan>I<tspan class="a">EE</tspan>A<tspan class="a">E</tspan><tspan class="b">K</tspan><tspan class="n">N</tspan>I<tspan class="a">E</tspan><tspan class="b">Q</tspan>L<tspan class="b">R</tspan><tspan class="a">E</tspan><tspan class="n">N</tspan>V<tspan class="a">E</tspan><tspan class="b">R</tspan></text>
<text class="seq" x="227.05" y="1058.1">L<tspan class="a">E</tspan><tspan class="b">K</tspan><tspan class="a">D</tspan>A<tspan class="o">T</tspan>A<tspan class="b">R</tspan><tspan class="a">D</tspan><tspan class="o">S</tspan>LLLM<tspan class="o">T</tspan><tspan class="b">KQ</tspan><tspan class="o">S</tspan><tspan class="x">H</tspan><tspan class="a">DD</tspan><tspan class="o">T</tspan>I<tspan class="b">K</tspan><tspan class="a">E</tspan>LL<tspan class="a">E</tspan>V<tspan class="b">Q</tspan><tspan class="d">--------------</tspan><tspan class="a">E</tspan><tspan class="b">R</tspan><tspan class="n">N</tspan>L<tspan class="a">E</tspan>LM<tspan class="n">N</tspan><tspan class="g">G</tspan>V<tspan class="a">ED</tspan><tspan class="o">S</tspan><tspan class="n">N</tspan><tspan class="b">KK</tspan>IMLL<tspan class="a">ED</tspan><tspan class="o">S</tspan>V<tspan class="b">KR</tspan></text>
<text class="seq" x="227.05" y="1079.3">L<tspan class="a">EE</tspan><tspan class="b">R</tspan>IAYI<tspan class="a">D</tspan><tspan class="o">S</tspan>LLAI<tspan class="a">E</tspan><tspan class="b">RR</tspan><tspan class="a">E</tspan><tspan class="n">NN</tspan><tspan class="a">E</tspan><tspan class="o">T</tspan><tspan class="b">KK</tspan><tspan class="a">E</tspan>LA<tspan class="a">D</tspan>A<tspan class="b">Q</tspan><tspan class="d">--------------</tspan><tspan class="b">K</tspan><tspan class="a">E</tspan>I<tspan class="a">EE</tspan>LL<tspan class="a">DE</tspan>M<tspan class="b">Q</tspan><tspan class="a">D</tspan><tspan class="n">N</tspan>VA<tspan class="o">S</tspan>IA<tspan class="a">E</tspan><tspan class="x">H</tspan><tspan class="a">ED</tspan><tspan class="o">T</tspan>I<tspan class="b">RR</tspan></text>
<text class="seq" x="227.05" y="1100.5">L<tspan class="a">EE</tspan><tspan class="n">N</tspan>V<tspan class="g">G</tspan>A<tspan class="b">K</tspan><tspan class="a">E</tspan><tspan class="o">S</tspan>LLL<tspan class="o">T</tspan><tspan class="a">E</tspan><tspan class="b">R</tspan><tspan class="a">E</tspan><tspan class="b">Q</tspan><tspan class="n">N</tspan>A<tspan class="o">ST</tspan>L<tspan class="b">K</tspan>LLA<tspan class="a">E</tspan>A<tspan class="x">H</tspan><tspan class="d">--------------</tspan>L<tspan class="a">E</tspan>I<tspan class="a">DE</tspan>LI<tspan class="b">RK</tspan>L<tspan class="a">ED</tspan><tspan class="o">S</tspan><tspan class="a">D</tspan><tspan class="b">RK</tspan><tspan class="o">S</tspan><tspan class="a">D</tspan><tspan class="o">S</tspan>L<tspan class="b">Q</tspan><tspan class="o">ST</tspan>I<tspan class="b">KR</tspan></text>
<text class="seq" x="227.05" y="1121.7">L<tspan class="a">EED</tspan><tspan class="g">G</tspan>IA<tspan class="b">K</tspan><tspan class="a">E</tspan>ALLL<tspan class="o">T</tspan><tspan class="a">E</tspan><tspan class="b">KQ</tspan>A<tspan class="x">H</tspan><tspan class="a">E</tspan>A<tspan class="o">T</tspan><tspan class="b">R</tspan>M<tspan class="o">T</tspan>L<tspan class="o">T</tspan><tspan class="a">E</tspan>AL<tspan class="d">--------------</tspan><tspan class="a">E</tspan><tspan class="b">K</tspan><tspan class="n">N</tspan><tspan class="a">EE</tspan>LL<tspan class="b">KK</tspan>I<tspan class="x">H</tspan><tspan class="a">DDD</tspan><tspan class="b">K</tspan><tspan class="x">H</tspan>IL<tspan class="a">E</tspan>L<tspan class="b">Q</tspan>F<tspan class="o">T</tspan>I<tspan class="b">QR</tspan></text>
<text class="seq" x="227.05" y="1142.9">L<tspan class="a">EE</tspan><tspan class="n">N</tspan><tspan class="o">T</tspan>AA<tspan class="b">K</tspan><tspan class="a">E</tspan><tspan class="n">N</tspan>LLL<tspan class="b">R</tspan><tspan class="a">E</tspan><tspan class="b">R</tspan><tspan class="a">E</tspan><tspan class="b">Q</tspan><tspan class="n">N</tspan><tspan class="a">D</tspan>A<tspan class="o">TT</tspan><tspan class="b">K</tspan>A<tspan class="b">Q</tspan>I<tspan class="a">E</tspan><tspan class="o">S</tspan><tspan class="b">Q</tspan><tspan class="d">--------------</tspan><tspan class="a">E</tspan><tspan class="b">R</tspan><tspan class="n">N</tspan><tspan class="a">E</tspan><tspan class="b">Q</tspan>LL<tspan class="b">KR</tspan>FV<tspan class="a">D</tspan>V<tspan class="a">D</tspan><tspan class="b">RK</tspan>I<tspan class="a">D</tspan>LL<tspan class="b">Q</tspan><tspan class="a">D</tspan><tspan class="o">T</tspan>I<tspan class="a">E</tspan><tspan class="b">R</tspan></text>
<text class="seq" x="227.05" y="1164.1">I<tspan class="g">G</tspan><tspan class="a">E</tspan><tspan class="n">N</tspan><tspan class="o">ST</tspan>I<tspan class="b">K</tspan><tspan class="a">D</tspan>ALLL<tspan class="o">S</tspan><tspan class="a">E</tspan><tspan class="b">RQ</tspan><tspan class="a">E</tspan><tspan class="b">K</tspan><tspan class="a">D</tspan>AI<tspan class="b">KK</tspan><tspan class="a">E</tspan>LV<tspan class="a">E</tspan>A<tspan class="g">G</tspan><tspan class="d">--------------</tspan><tspan class="a">E</tspan><tspan class="b">R</tspan><tspan class="n">N</tspan><tspan class="a">EE</tspan>LIM<tspan class="b">K</tspan>I<tspan class="a">ED</tspan><tspan class="o">T</tspan><tspan class="a">D</tspan><tspan class="b">KK</tspan>I<tspan class="a">E</tspan><tspan class="x">H</tspan>L<tspan class="b">Q</tspan><tspan class="n">N</tspan>AII<tspan class="b">K</tspan></text>
<text class="seq" x="227.05" y="1185.3">L<tspan class="a">E</tspan><tspan class="g">G</tspan><tspan class="a">D</tspan>I<tspan class="a">E</tspan>A<tspan class="b">K</tspan><tspan class="a">D</tspan>I<tspan class="o">S</tspan>L<tspan class="a">E</tspan>AA<tspan class="b">R</tspan><tspan class="a">EE</tspan><tspan class="n">N</tspan><tspan class="a">D</tspan><tspan class="o">T</tspan>I<tspan class="b">RK</tspan><tspan class="o">S</tspan>LA<tspan class="a">E</tspan>A<tspan class="b">Q</tspan><tspan class="d">--------------</tspan><tspan class="a">E</tspan><tspan class="b">K</tspan><tspan class="n">N</tspan><tspan class="a">EE</tspan>LL<tspan class="b">RK</tspan>I<tspan class="o">S</tspan><tspan class="a">D</tspan><tspan class="n">N</tspan><tspan class="a">E</tspan>Y<tspan class="b">R</tspan>I<tspan class="x">H</tspan>LL<tspan class="b">Q</tspan><tspan class="a">D</tspan><tspan class="o">T</tspan>A<tspan class="b">QK</tspan></text>
<text class="seq" x="227.05" y="1206.5">L<tspan class="b">Q</tspan>V<tspan class="a">D</tspan>AI<tspan class="o">S</tspan><tspan class="b">R</tspan>L<tspan class="o">SS</tspan>FVM<tspan class="a">E</tspan><tspan class="b">KQ</tspan><tspan class="a">E</tspan><tspan class="o">S</tspan><tspan class="a">D</tspan>AA<tspan class="b">KR</tspan>AL<tspan class="o">T</tspan><tspan class="a">E</tspan>A<tspan class="b">R</tspan><tspan class="a">E</tspan><tspan class="b">R</tspan><tspan class="n">N</tspan><tspan class="a">ED</tspan>LL<tspan class="b">KR</tspan><tspan class="n">N</tspan><tspan class="a">ED</tspan>LL<tspan class="b">KR</tspan><tspan class="n">N</tspan><tspan class="a">DD</tspan>LI<tspan class="b">KK</tspan>I<tspan class="a">EE</tspan><tspan class="o">SS</tspan><tspan class="b">K</tspan><tspan class="o">T</tspan>I<tspan class="o">T</tspan><tspan class="b">Q</tspan>L<tspan class="b">Q</tspan><tspan class="a">E</tspan><tspan class="o">T</tspan>L<tspan class="b">QR</tspan></text>
</g>

<g id="panelB-label"><text class="pl" x="0" y="1268">B</text></g>

<g id="tree-scale">
<path d="M46.9,1273.3H89.3" stroke="#555" stroke-width="1.2"/>
<text class="sans" x="91.5" y="1277.5" font-size="12" fill="#333">0.1</text>
</g>

<g id="tree-leaders">
<path class="ldr" d="M327.2,1290H660M136.2,1302.9H660M292.4,1315.8H660M313.8,1328.7H660M496.4,1341.6H660M350,1354.5H660M459.8,1367.4H660M434,1380.3H660M412,1393.2H660M372.8,1406.1H660M598.2,1419H660M445.1,1431.9H660M479.9,1444.8H660M466.5,1457.7H660M375.9,1470.6H660M387,1483.5H660M446.4,1496.4H660M338.4,1509.3H660M435.3,1522.2H660M396.4,1535.1H660M365.2,1548H660M575.9,1573.8H660M416,1586.7H660M581.7,1599.6H660M454.5,1612.5H660M563.4,1625.4H660M571.4,1638.3H660"/>
</g>

<g id="connectors">
<path class="br" d="M45.5,1330H59.4M59.4,1290V1364M59.4,1290H327.2M59.4,1302.9H136.2M59.4,1364H127.2M127.2,1322.25V1460M127.2,1322.25H211.2M211.2,1315.8V1328.7M211.2,1315.8H292.4M211.2,1328.7H313.8M127.2,1460H147.3M147.3,1360.95V1541.5M147.3,1360.95H177.2M177.2,1348.05V1373.85M177.2,1348.05H276.8M276.8,1341.6V1354.5M276.8,1341.6H496.4M276.8,1354.5H350M177.2,1373.85H334.8M334.8,1367.4V1380.3M334.8,1367.4H459.8M334.8,1380.3H434M147.3,1422.2H161.6M161.6,1399.65V1444.8M161.6,1399.65H256.7M256.7,1393.2V1406.1M256.7,1393.2H412M256.7,1406.1H372.8M161.6,1444.8H201.8M201.8,1425.45V1464.15M201.8,1425.45H445.1M445.1,1419V1431.9M445.1,1419H598.2M201.8,1464.15H208.5M208.5,1451.25V1477.05M208.5,1451.25H374.1M374.1,1444.8V1457.7M374.1,1444.8H479.9M374.1,1457.7H466.5M208.5,1477.05H275.9M275.9,1470.6V1483.5M275.9,1470.6H375.9M275.9,1483.5H387M147.3,1541.5H158.5M158.5,1506.1V1577M158.5,1506.1H186.6M186.6,1496.4V1515.75M186.6,1496.4H446.4M186.6,1515.75H245.5M245.5,1509.3V1522.2M245.5,1509.3H338.4M245.5,1522.2H435.3M158.5,1577H172.8M172.8,1551.2V1602.8M172.8,1551.2H185.3M185.3,1535.1V1567.35M185.3,1535.1H396.4M185.3,1548H365.2M185.3,1567.35H429.9M429.9,1560.9V1573.8M429.9,1560.9H661M429.9,1573.8H575.9M172.8,1602.8H258M258,1586.7V1618.95M258,1586.7H416M258,1618.95H289.3M289.3,1606.05V1631.85M289.3,1606.05H376.3M376.3,1599.6V1612.5M376.3,1599.6H581.7M376.3,1612.5H454.5M289.3,1631.85H379.5M379.5,1625.4V1638.3M379.5,1625.4H563.4M379.5,1638.3H571.4"/>
<path class="cn" d="M830,1431.7L830,1486.7M858.3,1431.7L875.7,1486.7M889,1431.7L896.7,1486.7M920,1431.7L920,1486.7M951.7,1431.7L983.3,1486.7M983.3,1431.7L1007.3,1486.7M1013.3,1431.7L1028.3,1486.7M1044.3,1431.7L1076.7,1486.7M1074.7,1431.7L1099.3,1486.7M1105.7,1431.7L1121.7,1486.7M1136,1431.7L1143.3,1486.7M1166.7,1431.7L1166.7,1486.7"/>
</g>

<g id="tree-support">
<text class="bs" x="71.4" y="1362">53 / 90 / -</text>
<text class="bs" x="147.3" y="1320.2">96 / 100 / 93</text>
<text class="bs" x="210.7" y="1346">92 / 100 / 95</text>
<text class="bs" x="250" y="1371.8">99 / 100 / 92</text>
<text class="bs" x="195.5" y="1397.6">88 / 100 / 84</text>
<text class="bs" x="314.7" y="1423.4">100 / 100 / 100</text>
<text class="bs" x="284.8" y="1449.2">99 / 100 / 100</text>
<text class="bs" x="216.5" y="1475">88 / 100 / 77</text>
<text class="bs" x="191" y="1513.7">75 / 89 / 71</text>
<text class="bs" x="301.8" y="1565.3">98 / 100 / 98</text>
<text class="bs" x="310.3" y="1604">82 / 100 / 71</text>
<text class="bs" x="310.3" y="1629.8">84 / 100 / 67</text>
</g>

<g id="tree-leaves">
<text class="l1" x="663" y="1295">11E1 exon25</text>
<text class="l2" x="663" y="1307.9">11E2 exon25</text>
<text class="l2" x="663" y="1320.8">11E2 exon37</text>
<text class="l1" x="663" y="1333.7">11E1 exon33</text>
<text class="l1" x="663" y="1346.6">11E1 exon34</text>
<text class="l2" x="663" y="1359.5">11E2 exon38</text>
<text class="l2" x="663" y="1372.4">11E2 exon39</text>
<text class="l1" x="663" y="1385.3">11E1 exon35</text>
<text class="l1" x="663" y="1398.2">11E1 exon29</text>
<text class="l2" x="663" y="1411.1">11E2 exon32</text>
<text class="l1" x="663" y="1424">11E1 exon36</text>
<text class="l2" x="663" y="1436.9">11E2 exon40</text>
<text class="l2" x="663" y="1449.8">11E2 exon33</text>
<text class="l1" x="663" y="1462.7">11E1 exon30</text>
<text class="l2" x="663" y="1475.6">11E2 exon36</text>
<text class="l1" x="663" y="1488.5">11E1 exon32</text>
<text class="l2" x="663" y="1501.4">11E2 exon26</text>
<text class="l2" x="663" y="1514.3">11E2 exon28</text>
<text class="l1" x="663" y="1527.2">11E1 exon27</text>
<text class="l2" x="663" y="1540.1">11E2 exon30</text>
<text class="l2" x="663" y="1553">11E2 exon31</text>
<text class="l1" x="663" y="1565.9">11E1 exon31</text>
<text class="l2" x="663" y="1578.8">11E2 exon34</text>
<text class="l2" x="663" y="1591.7">11E2 exon35</text>
<text class="l1" x="663" y="1604.6">11E1 exon28</text>
<text class="l2" x="663" y="1617.5">11E2 exon29</text>
<text class="l1" x="663" y="1630.4">11E1 exon26</text>
<text class="l2" x="663" y="1643.3">11E2 exon27</text>
</g>

<g id="arrows">
<path class="arr" d="M754,1496.4H781M754,1535.1H781M754,1548H781M754,1586.7H781"/>
<path class="arh" d="M746,1496.4L757,1492L757,1500.8ZM746,1535.1L757,1530.7L757,1539.5ZM746,1548L757,1543.6L757,1552.4ZM746,1586.7L757,1582.3L757,1591.1Z"/>
</g>

<g id="exon-map">
<text class="ttl" x="921" y="1322"><tspan font-style="italic">Os_a</tspan>Myo11E1</text>
<text class="rn" x="830" y="1356">25</text><text class="rn" x="985" y="1356">30</text><text class="rn" x="1166.7" y="1356">36</text>
<g id="E1-exons">
<rect class="rg" x="825" y="1371.7" width="10" height="51.6"/>
<rect class="rg" x="855" y="1371.7" width="11.3" height="51.6"/>
<rect class="rg" x="886" y="1371.7" width="11.3" height="51.6"/>
<rect class="rg" x="916.7" y="1371.7" width="11" height="51.6"/>
<rect class="rg" x="946.7" y="1371.7" width="11.3" height="51.6"/>
<rect class="rg" x="977.7" y="1371.7" width="11.3" height="51.6"/>
<rect class="rg" x="1008.3" y="1371.7" width="11.4" height="51.6"/>
<rect class="rg" x="1039" y="1371.7" width="11.3" height="51.6"/>
<rect class="rg" x="1069.3" y="1371.7" width="11.4" height="51.6"/>
<rect class="rg" x="1100" y="1371.7" width="11.3" height="51.6"/>
<rect class="rg" x="1130.7" y="1371.7" width="11.3" height="51.6"/>
<rect class="rg" x="1158.3" y="1371.7" width="16.7" height="51.6"/>
</g>
<g id="E2-exons">
<rect class="rg" x="825" y="1499.3" width="10" height="51.4"/>
<rect class="ry" x="847.3" y="1499.3" width="10.7" height="51.4"/>
<rect class="rg" x="869.3" y="1499.3" width="11.4" height="51.4"/>
<rect class="rg" x="891.7" y="1499.3" width="11.3" height="51.4"/>
<rect class="rg" x="914.3" y="1499.3" width="11.4" height="51.4"/>
<rect class="ry" x="937" y="1499.3" width="10.7" height="51.4"/>
<rect class="ry" x="959.3" y="1499.3" width="10.7" height="51.4"/>
<rect class="rg" x="981.3" y="1499.3" width="11.4" height="51.4"/>
<rect class="rg" x="1004" y="1499.3" width="11.3" height="51.4"/>
<rect class="rg" x="1026.3" y="1499.3" width="11.4" height="51.4"/>
<rect class="ry" x="1048.7" y="1499.3" width="10.6" height="51.4"/>
<rect class="rg" x="1071.3" y="1499.3" width="11.4" height="51.4"/>
<rect class="rg" x="1093.7" y="1499.3" width="11.3" height="51.4"/>
<rect class="rg" x="1116.3" y="1499.3" width="11.4" height="51.4"/>
<rect class="rg" x="1138.7" y="1499.3" width="11.3" height="51.4"/>
<rect class="rg" x="1158.3" y="1499.3" width="16.7" height="51.4"/>
</g>
<text class="rn" x="830" y="1581">25</text><text class="rn" x="856.7" y="1581">26</text><text class="rn" x="942.5" y="1581">30</text><text class="rn" x="965.8" y="1581">31</text><text class="rn" x="1054" y="1581">35</text><text class="rn" x="1168.3" y="1581">40</text>
<text class="ttl" x="921" y="1629"><tspan font-style="italic">Os_a</tspan>Myo11E2</text>
</g>
</svg>
